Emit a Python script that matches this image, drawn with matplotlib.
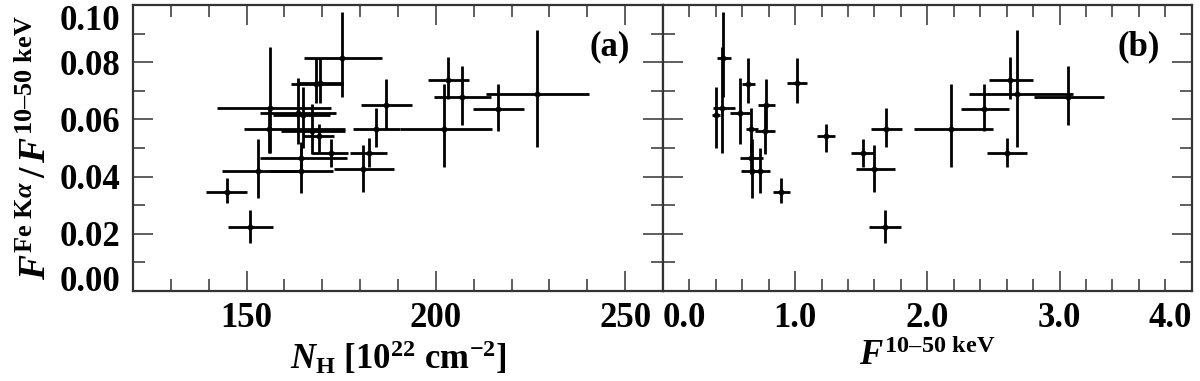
import numpy as np
import matplotlib
matplotlib.use('Agg')
import matplotlib.pyplot as plt
from matplotlib.ticker import MultipleLocator

plt.rcParams['font.family'] = 'Liberation Serif'
plt.rcParams['font.weight'] = 'bold'
plt.rcParams['axes.labelweight'] = 'bold'
plt.rcParams['mathtext.fontset'] = 'custom'
plt.rcParams['mathtext.rm'] = 'Liberation Serif:bold'
plt.rcParams['mathtext.it'] = 'Liberation Serif:italic:bold'
plt.rcParams['mathtext.bf'] = 'Liberation Serif:bold'

# Fe Ka / continuum ratio (shared by both panels)
ratio    = [0.0347, 0.0225, 0.0814, 0.0724, 0.0728, 0.0739, 0.0680, 0.0688,
            0.0650, 0.0639, 0.0621, 0.0615, 0.0636, 0.0565, 0.0560, 0.0565,
            0.0565, 0.0542, 0.0481, 0.0481, 0.0464, 0.0421, 0.0425, 0.0418]
ratio_lo = [0.0308, 0.0169, 0.0679, 0.0656, 0.0656, 0.0670, 0.0580, 0.0505,
            0.0567, 0.0481, 0.0513, 0.0500, 0.0560, 0.0483, 0.0479, 0.0502,
            0.0432, 0.0487, 0.0435, 0.0435, 0.0410, 0.0324, 0.0347, 0.0342]
ratio_hi = [0.0395, 0.0283, 0.0977, 0.0814, 0.0814, 0.0817, 0.0787, 0.0913,
            0.0743, 0.0854, 0.0744, 0.0714, 0.0723, 0.0640, 0.0654, 0.0640,
            0.0725, 0.0585, 0.0531, 0.0534, 0.0520, 0.0530, 0.0512, 0.0500]

# column density NH [1e22 cm^-2]
nh    = [144.7, 150.9, 175.3, 168.3, 169.3, 203.2, 206.8, 226.7,
         186.8, 156.1, 163.6, 164.9, 216.4, 156.0, 167.4, 184.3,
         202.1, 169.2, 172.4, 182.3, 164.5, 153.1, 180.8, 164.5]
nh_lo = [139.4, 145.1, 165.2, 161.7, 163.6, 197.8, 199.4, 213.3,
         180.1, 142.3, 153.5, 157.0, 209.8, 149.4, 159.2, 178.1,
         190.4, 164.9, 167.2, 177.3, 153.5, 143.4, 173.0, 156.1]
nh_hi = [150.1, 157.0, 185.8, 175.5, 175.5, 208.7, 214.6, 240.4,
         193.8, 172.4, 173.7, 172.0, 223.2, 176.0, 175.9, 190.4,
         214.9, 173.1, 176.8, 187.2, 176.4, 163.6, 189.0, 172.8]

# 10-50 keV flux
flux    = [0.896, 1.683, 0.455, 0.644, 1.014, 2.626, 3.064, 2.677,
           0.777, 0.450, 0.581, 0.400, 2.425, 0.669, 0.770, 1.688,
           2.179, 1.235, 1.512, 2.599, 0.669, 0.670, 1.600, 0.732]
flux_lo = [0.835, 1.562, 0.405, 0.600, 0.941, 2.463, 2.808, 2.312,
           0.720, 0.380, 0.510, 0.367, 2.254, 0.630, 0.694, 1.570,
           1.900, 1.167, 1.424, 2.450, 0.580, 0.589, 1.462, 0.690]
flux_hi = [0.962, 1.802, 0.518, 0.694, 1.092, 2.802, 3.336, 3.104,
           0.845, 0.543, 0.657, 0.435, 2.614, 0.715, 0.850, 1.810,
           2.498, 1.298, 1.600, 2.757, 0.757, 0.740, 1.756, 0.810]

yticks = [0.00, 0.02, 0.04, 0.06, 0.08, 0.10]
nh_ticks = [150, 200, 250]
flux_ticks = [0.0, 1.0, 2.0, 3.0, 4.0]

ratio, ratio_lo, ratio_hi = map(np.array, (ratio, ratio_lo, ratio_hi))
nh, nh_lo, nh_hi = map(np.array, (nh, nh_lo, nh_hi))
flux, flux_lo, flux_hi = map(np.array, (flux, flux_lo, flux_hi))
yerr = [ratio - ratio_lo, ratio_hi - ratio]

fig = plt.figure(figsize=(12, 3.81), dpi=100)
axa = fig.add_axes([133/1200, 90/381, 530/1200, 286/381])
axb = fig.add_axes([663/1200, 90/381, 528.7/1200, 286/381])

edge = '#333333'
for ax in (axa, axb):
    for s in ax.spines.values():
        s.set_linewidth(1.6)
        s.set_color(edge)
    ax.tick_params(which='both', direction='in', top=True, right=True,
                   width=1.1, color=edge, labelsize=25)
    ax.tick_params(which='major', length=14.5)
    ax.tick_params(which='minor', length=8.5)
    ax.set_ylim(0.0, 0.10)
    ax.set_yticks(yticks)
    ax.yaxis.set_minor_locator(MultipleLocator(0.01))
    ax.tick_params(axis='x', pad=8)
    ax.tick_params(axis='y', pad=9)

# panel (a)
axa.errorbar(nh, ratio, xerr=[nh - nh_lo, nh_hi - nh], yerr=yerr, fmt='o',
             color='black', ms=3.2, elinewidth=2.0, capsize=0)
axa.set_xlim(120, 260)
axa.set_xticks(nh_ticks)
axa.xaxis.set_minor_locator(MultipleLocator(10))
axa.set_yticklabels(['%.2f' % v for v in yticks])
axa.set_xlabel(r'$N_{\mathrm{H}}$ [10$^{22}$ cm$^{-2}$]', fontsize=25, labelpad=3)
axa.set_ylabel(r'$F^{\mathrm{Fe\ K}\alpha}\,/\,F^{\mathrm{10–50\ keV}}$',
               fontsize=27, labelpad=4)
axa.text(0.938, 0.853, '(a)', transform=axa.transAxes, ha='right',
         va='center', fontsize=25, fontweight='bold')

# panel (b)
axb.errorbar(flux, ratio, xerr=[flux - flux_lo, flux_hi - flux], yerr=yerr,
             fmt='o', color='black', ms=3.2, elinewidth=2.0, capsize=0)
axb.set_xlim(0.0, 4.0)
axb.set_xticks(flux_ticks)
axb.xaxis.set_minor_locator(MultipleLocator(0.2))
axb.set_xticklabels(['%.1f' % v for v in flux_ticks])
axb.set_yticklabels([])
axb.set_xlabel(r'$F^{\mathrm{10–50\ keV}}$', fontsize=25, labelpad=3)
axb.text(0.94, 0.853, '(b)', transform=axb.transAxes, ha='right',
         va='center', fontsize=25, fontweight='bold')

ylabs = axa.get_yticklabels()
ylabs[0].set_va('baseline')
ylabs[-1].set_va('top')
xlabs = axb.get_xticklabels()
xlabs[0].set_ha('left')
xlabs[-1].set_ha('right')

fig.savefig('out.png', dpi=100)
